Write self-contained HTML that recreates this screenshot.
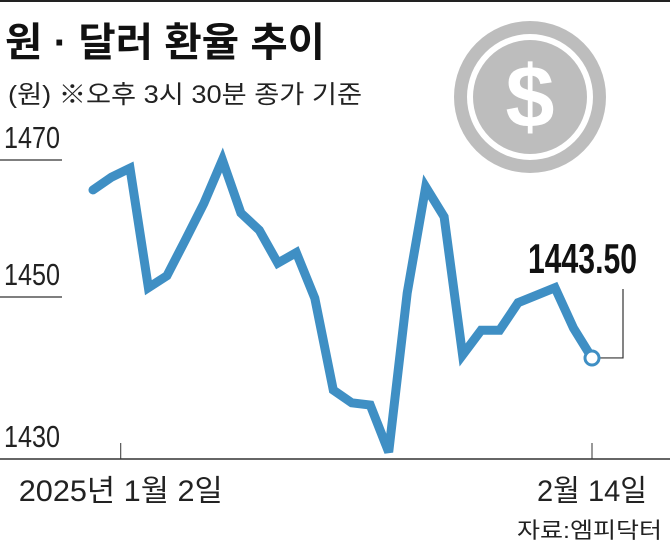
<!DOCTYPE html>
<html><head><meta charset="utf-8"><style>
html,body{margin:0;padding:0;background:#fff;}
body{width:670px;height:549px;overflow:hidden;position:relative;font-family:"Liberation Sans","Noto Sans CJK KR",sans-serif;}
svg text{font-family:"Liberation Sans","Noto Sans CJK KR",sans-serif;}
</style></head><body>
<svg id="chart" width="670" height="549" viewBox="0 0 670 549" xmlns="http://www.w3.org/2000/svg">
<line x1="0" y1="1" x2="670" y2="1" stroke="#222" stroke-width="2"/>
<text x="5" y="56" font-size="40" font-weight="bold" fill="#111" textLength="320" lengthAdjust="spacingAndGlyphs">원 · 달러 환율 추이</text>
<text x="8" y="103" font-size="25" fill="#222" textLength="354" lengthAdjust="spacingAndGlyphs">(원) ※오후 3시 30분 종가 기준</text>
<g>
<circle cx="530" cy="97" r="76" fill="#bdbdbd"/>
<circle cx="530" cy="97" r="63" fill="#fff"/>
<circle cx="530" cy="97" r="57" fill="#bdbdbd"/>
<text x="530" y="127" text-anchor="middle" font-size="88" font-weight="bold" fill="#fff">$</text>
</g>
<g id="yaxis"></g>
<line x1="0" y1="459" x2="670" y2="459" stroke="#333" stroke-width="1.5"/>
<g id="xaxis"></g>
<g id="series"></g>
<text x="517" y="538" font-size="22" fill="#222" textLength="145" lengthAdjust="spacingAndGlyphs">자료:엠피닥터</text>
</svg>
<script>
const values=[1466.0,1467.7,1468.9,1452.9,1454.5,1459.3,1464.2,1470.0,1462.9,1460.6,1456.2,1457.6,1451.5,1439.2,1437.5,1437.2,1430.9,1452.2,1466.4,1462.4,1443.9,1447.2,1447.2,1450.9,1451.9,1452.9,1447.5,1443.5];
const yTicks=[1470,1450,1430];
const xLabels=["2025년 1월 2일","2월 14일"];
const xLabelIdx=[1.5,27];
const lastLabel="1443.50";

const NS="http://www.w3.org/2000/svg";
const x0=93,x1=592,yTop=160,kPer=7.47;
function xs(i){return x0+i*(x1-x0)/(values.length-1);}
function ys(v){return yTop+(1470-v)*kPer;}
function mk(t,a){const e=document.createElementNS(NS,t);for(const k in a)e.setAttribute(k,a[k]);return e;}
const ya=document.getElementById('yaxis');
yTicks.forEach(v=>{
  const gy=v===1450?297:ys(v);
  if(v>1430){
    const l=mk('line',{x1:0,x2:62,y1:gy,y2:gy,stroke:'#333','stroke-width':1.2});
    
    
    ya.appendChild(l);
  }
  const t=mk('text',{x:4,y:gy-12,'font-size':31,fill:'#222',textLength:56,lengthAdjust:'spacingAndGlyphs'});
  t.textContent=v;
  
  
  ya.appendChild(t);
});
const xa=document.getElementById('xaxis');
const xLens=[204,110];
xLabels.forEach((s,j)=>{
  const x=xs(xLabelIdx[j]);
  const l=mk('line',{x1:x,x2:x,y1:443,y2:459,stroke:'#333','stroke-width':1});
  
  
  xa.appendChild(l);
  const t=mk('text',{x:x,y:501,'font-size':30,fill:'#222','text-anchor':'middle',textLength:xLens[j],lengthAdjust:'spacingAndGlyphs'});
  t.textContent=s;
  
  
  xa.appendChild(t);
});
const g=document.getElementById('series');
const pts=values.map((v,i)=>xs(i).toFixed(1)+','+ys(v).toFixed(1)).join(' ');
const pl=mk('polyline',{points:pts,fill:'none',stroke:'#3f8fc4','stroke-width':9,'stroke-linejoin':'miter','stroke-linecap':'round'});


g.appendChild(pl);
const lx=xs(values.length-1),ly=ys(values[values.length-1]);
const ld=mk('polyline',{points:(lx+8)+','+ly+' 623,'+ly+' 623,289',fill:'none',stroke:'#333','stroke-width':1.2});


g.appendChild(ld);
const c=mk('circle',{cx:lx,cy:ly,r:7,fill:'#fff',stroke:'#3f8fc4','stroke-width':3});


g.appendChild(c);
const lt=mk('text',{x:528,y:273,'font-size':42,'font-weight':'bold',fill:'#111',textLength:109,lengthAdjust:'spacingAndGlyphs'});
lt.textContent=lastLabel;


g.appendChild(lt);
</script>
</body></html>
